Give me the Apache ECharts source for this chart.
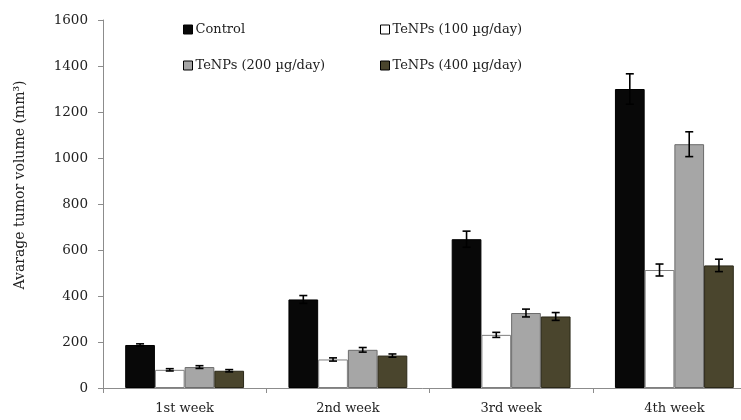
<!DOCTYPE html>
<html><head><meta charset="utf-8">
<script src="https://cdn.jsdelivr.net/npm/echarts@6/dist/echarts.min.js"></script>
<style>html,body{margin:0;padding:0;background:#fff}#c{width:741px;height:420px}</style>
</head><body><div id="c"></div>
<script>
const categories = ['1st week', '2nd week', '3rd week', '4th week'];
const seriesNames = ['Control', 'TeNPs (100 µg/day)', 'TeNPs (200 µg/day)', 'TeNPs (400 µg/day)'];
const control = [187, 385, 647, 1300];
const tenps100 = [79, 124, 231, 513];
const tenps200 = [91, 166, 326, 1060];
const tenps400 = [75, 141, 311, 533];
const controlErr = [5, 17, 35, 66];
const tenps100Err = [5, 7, 11, 26];
const tenps200Err = [6, 10, 17, 54];
const tenps400Err = [5, 7, 17, 27];
const yTicks = [0, 200, 400, 600, 800, 1000, 1200, 1400, 1600];

const values = [control, tenps100, tenps200, tenps400];
const errs = [controlErr, tenps100Err, tenps200Err, tenps400Err];
const fills = ['#080808', '#ffffff', '#a6a6a6', '#4a452d'];
const borders = ['#000000', '#7f7f7f', '#6b6b6b', '#2b2818'];
const font = 'DejaVu Serif';
const BW = 0.182;

const series = [];
values.forEach((v, i) => {
  series.push({
    name: seriesNames[i], type: 'bar', data: v, barWidth: (BW * 100) + '%', barGap: '0%',
    itemStyle: { color: fills[i], borderColor: borders[i], borderWidth: 1 }
  });
});
values.forEach((v, i) => {
  series.push({
    type: 'custom', silent: true, z: 10,
    data: v.map((val, j) => [j, val, errs[i][j]]),
    renderItem: function (params, api) {
      const c = api.value(0), val = api.value(1), e = api.value(2);
      const band = api.size([1, 0])[0];
      const off = (i - 1.5) * band * BW;
      const top = api.coord([c, val + e]);
      const bot = api.coord([c, val - e]);
      const x = top[0] + off, hw = 4;
      const st = { stroke: '#000', lineWidth: 1.6 };
      return { type: 'group', children: [
        { type: 'line', shape: { x1: x, y1: top[1], x2: x, y2: bot[1] }, style: st },
        { type: 'line', shape: { x1: x - hw, y1: top[1], x2: x + hw, y2: top[1] }, style: st },
        { type: 'line', shape: { x1: x - hw, y1: bot[1], x2: x + hw, y2: bot[1] }, style: st }
      ]};
    }
  });
});

const legendPos = [[178, 18], [375, 18], [178, 54], [375, 54]];
const legends = seriesNames.map((n, i) => ({
  data: [n], left: legendPos[i][0], top: legendPos[i][1], itemWidth: 9, itemHeight: 9, itemGap: 0,
  icon: 'rect', selectedMode: false,
  itemStyle: { borderColor: '#000', borderWidth: 1 },
  textStyle: { fontFamily: font, fontSize: 13, color: '#222', padding: [0, 0, 0, -2] }
}));

const chart = echarts.init(document.getElementById('c'));
chart.setOption({
  animation: false,
  backgroundColor: '#fff',
  legend: legends,
  grid: { left: 103, width: 653, top: 20, bottom: 32, containLabel: false, outerBoundsMode: 'none' },
  xAxis: {
    type: 'category', data: categories,
    axisLine: { lineStyle: { color: '#8c8c8c', width: 1 } },
    axisTick: { show: true, length: 5, lineStyle: { color: '#8c8c8c' } },
    axisLabel: { fontFamily: font, fontSize: 13, color: '#222', margin: 14 }
  },
  yAxis: {
    type: 'value', min: yTicks[0], max: yTicks[yTicks.length - 1], interval: 200,
    name: 'Avarage tumor volume (mm³)', nameLocation: 'middle', nameGap: 76,
    nameTextStyle: { fontFamily: font, fontSize: 14, color: '#222', padding: [0, 0, 0, 38] },
    axisLine: { show: true, lineStyle: { color: '#8c8c8c', width: 1 } },
    axisTick: { show: true, length: 5, lineStyle: { color: '#8c8c8c' } },
    splitLine: { show: false },
    axisLabel: { fontFamily: font, fontSize: 13.5, color: '#222', margin: 15, formatter: v => String(v) }
  },
  series: series
});
</script></body></html>
